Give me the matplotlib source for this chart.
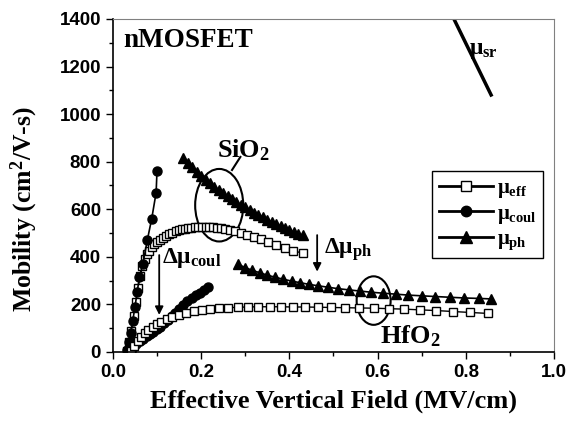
import numpy as np
import matplotlib
matplotlib.use("Agg")
from matplotlib import pyplot as plt
from matplotlib.patches import Ellipse

plt.rcParams['mathtext.fontset'] = 'custom'
plt.rcParams['mathtext.rm'] = 'Liberation Serif:bold'
plt.rcParams['mathtext.it'] = 'Liberation Serif:bold'
plt.rcParams['mathtext.bf'] = 'Liberation Serif:bold'

# SiO2 data
sio2_coul_x = [0.032, 0.036, 0.040, 0.045, 0.050, 0.055, 0.060, 0.068, 0.078, 0.088, 0.098, 0.100]
sio2_coul_y = [10, 40, 80, 130, 190, 250, 315, 370, 470, 560, 670, 760]

sio2_eff_x = [0.032, 0.037, 0.042, 0.047, 0.052, 0.057, 0.062, 0.067, 0.072, 0.077, 0.082, 0.088,
              0.094, 0.100, 0.107, 0.114, 0.121, 0.128, 0.135, 0.142, 0.149, 0.156, 0.163, 0.170,
              0.178, 0.186, 0.194, 0.202, 0.210, 0.218, 0.226, 0.235, 0.244, 0.254, 0.265, 0.277,
              0.290, 0.304, 0.319, 0.335, 0.352, 0.370, 0.389, 0.409, 0.430]
sio2_eff_y = [5, 40, 90, 150, 210, 270, 320, 360, 390, 410, 425, 440,
              452, 462, 472, 481, 489, 496, 502, 507, 511, 515, 518, 520,
              522, 524, 525, 526, 526, 526, 525, 523, 521, 518, 514, 508,
              501, 493, 484, 474, 463, 451, 438, 426, 415]

sio2_ph_x = [0.16, 0.17, 0.18, 0.19, 0.20, 0.21, 0.22, 0.23, 0.24, 0.25, 0.26, 0.27, 0.28, 0.29,
             0.30, 0.31, 0.32, 0.33, 0.34, 0.35, 0.36, 0.37, 0.38, 0.39, 0.40, 0.41, 0.42, 0.43]
sio2_ph_y = [815, 795, 776, 758, 741, 725, 710, 695, 681, 668, 655, 643, 631, 619,
             608, 597, 586, 576, 566, 556, 547, 538, 529, 520, 512, 504, 497, 490]

# HfO2 data
hfo2_coul_x = [0.040, 0.046, 0.053, 0.061, 0.069, 0.077, 0.084, 0.091, 0.099, 0.107, 0.116,
               0.125, 0.133, 0.141, 0.150, 0.159, 0.169, 0.179, 0.188, 0.198, 0.207, 0.216]
hfo2_coul_y = [5, 22, 33, 44, 55, 65, 75, 85, 96, 106, 120,
               135, 150, 165, 182, 199, 214, 228, 238, 249, 262, 275]

hfo2_eff_x = [0.040, 0.048, 0.056, 0.064, 0.072, 0.080, 0.090, 0.100, 0.110, 0.122, 0.135, 0.150,
              0.166, 0.183, 0.201, 0.220, 0.240, 0.261, 0.283, 0.306, 0.330, 0.355, 0.381, 0.408,
              0.436, 0.465, 0.495, 0.526, 0.558, 0.591, 0.625, 0.660, 0.696, 0.733, 0.771, 0.810,
              0.850]
hfo2_eff_y = [5, 25, 45, 62, 78, 92, 106, 118, 128, 138, 148, 157,
              165, 172, 177, 181, 184, 186, 188, 189, 190, 190, 190, 189,
              189, 188, 187, 186, 185, 184, 182, 180, 177, 174, 170, 166,
              162]

hfo2_ph_x = [0.284, 0.300, 0.316, 0.333, 0.350, 0.368, 0.386, 0.405, 0.425, 0.445, 0.466, 0.488,
             0.511, 0.535, 0.560, 0.586, 0.613, 0.641, 0.670, 0.700, 0.731, 0.763, 0.796, 0.830,
             0.857]
hfo2_ph_y = [368, 355, 343, 333, 323, 314, 306, 298, 291, 284, 278, 272,
             266, 261, 256, 251, 247, 243, 239, 236, 233, 230, 227, 225,
             223]

sr_x = [0.773, 0.859]
sr_y = [1400, 1074]

fig = plt.figure(figsize=(5.73, 4.22), dpi=100)
ax = fig.add_axes([0.197, 0.166, 0.770, 0.789])

sq = dict(marker='s', color='black', mfc='white', mec='black', ms=5.5, lw=1, mew=1)
ci = dict(marker='o', color='black', mfc='black', mec='black', ms=6.5, lw=1.2)
tr = dict(marker='^', color='black', mfc='black', mec='black', ms=7, lw=1.2)

ax.plot(sio2_ph_x, sio2_ph_y, **tr)
ax.plot(sio2_eff_x, sio2_eff_y, **sq)
ax.plot(sio2_coul_x, sio2_coul_y, **ci)
ax.plot(hfo2_ph_x, hfo2_ph_y, **tr)
ax.plot(hfo2_coul_x, hfo2_coul_y, **ci)
ax.plot(hfo2_eff_x, hfo2_eff_y, **sq)
ax.plot(sr_x, sr_y, color='black', lw=2.5, solid_capstyle='butt')

# legend handles
h1, = ax.plot([], [], **dict(sq, lw=2, ms=6.5))
h2, = ax.plot([], [], **dict(ci, lw=2, ms=7.5))
h3, = ax.plot([], [], **dict(tr, lw=2, ms=8))
leg = ax.legend([h1, h2, h3], [r'$\mu_{\rm eff}$', r'$\mu_{\rm coul}$', r'$\mu_{\rm ph}$'],
                loc='upper left', bbox_to_anchor=(0.724, 0.544), borderaxespad=0,
                fancybox=False, edgecolor='black', fontsize=15, handlelength=2.6,
                borderpad=0.3, labelspacing=0.12, handletextpad=0.2, framealpha=1)
leg.get_frame().set_linewidth(1)

# ellipses and annotations
ax.add_patch(Ellipse((0.241, 617), 0.109, 305, fill=False, lw=1.5, ec='black'))
ax.add_patch(Ellipse((0.591, 216), 0.077, 204, fill=False, lw=1.5, ec='black'))
ax.plot([0.270, 0.289], [765, 820], color='black', lw=1.5)

ax.annotate('', xy=(0.105, 144), xytext=(0.105, 419),
            arrowprops=dict(arrowstyle='-|>', color='black', lw=1.3, mutation_scale=12))
ax.annotate('', xy=(0.463, 326), xytext=(0.463, 503),
            arrowprops=dict(arrowstyle='-|>', color='black', lw=1.3, mutation_scale=12))

serif = dict(family='Liberation Serif', fontweight='bold')
ax.text(0.023, 1310, 'nMOSFET', fontsize=19.5, va='center', ha='left', **serif)
ax.text(0.235, 850, r'SiO$_2$', fontsize=19, va='center', ha='left', **serif)
ax.text(0.605, 65, r'HfO$_2$', fontsize=19, va='center', ha='left', **serif)
ax.text(0.112, 395, r'$\Delta\mu_{\rm coul}$', fontsize=17, va='center', ha='left')
ax.text(0.478, 430, r'$\Delta\mu_{\rm ph}$', fontsize=17, va='center', ha='left')
ax.text(0.808, 1275, r'$\mu_{\rm sr}$', fontsize=17, va='center', ha='left')

ax.set_xlim(0, 1.0)
ax.set_ylim(0, 1400)
ax.set_xticks(np.arange(0, 1.01, 0.2))
ax.set_xticks(np.arange(0, 1.01, 0.1), minor=True)
ax.set_yticks(np.arange(0, 1401, 200))
ax.set_yticks(np.arange(0, 1401, 100), minor=True)
ax.tick_params(which='major', direction='out', length=5, width=1)
ax.tick_params(which='minor', direction='out', length=3, width=1)
ax.set_xticklabels(['0.0', '0.2', '0.4', '0.6', '0.8', '1.0'])
for lab in ax.get_xticklabels() + ax.get_yticklabels():
    lab.set_family('Liberation Sans')
    lab.set_fontweight('bold')
    lab.set_fontsize(13.5)

for s in ['top', 'right']:
    ax.spines[s].set_color('gray')
    ax.spines[s].set_linewidth(0.8)
ax.spines['left'].set_linewidth(1.2)
ax.spines['bottom'].set_linewidth(1.2)

ax.set_xlabel('Effective Vertical Field (MV/cm)', fontsize=19, labelpad=6, **serif)
ax.set_ylabel(r'Mobility (cm$^2$/V-s)', fontsize=18.5, **serif)
ax.yaxis.set_label_coords(-0.165, 0.43)

plt.savefig('out.png', dpi=100)
